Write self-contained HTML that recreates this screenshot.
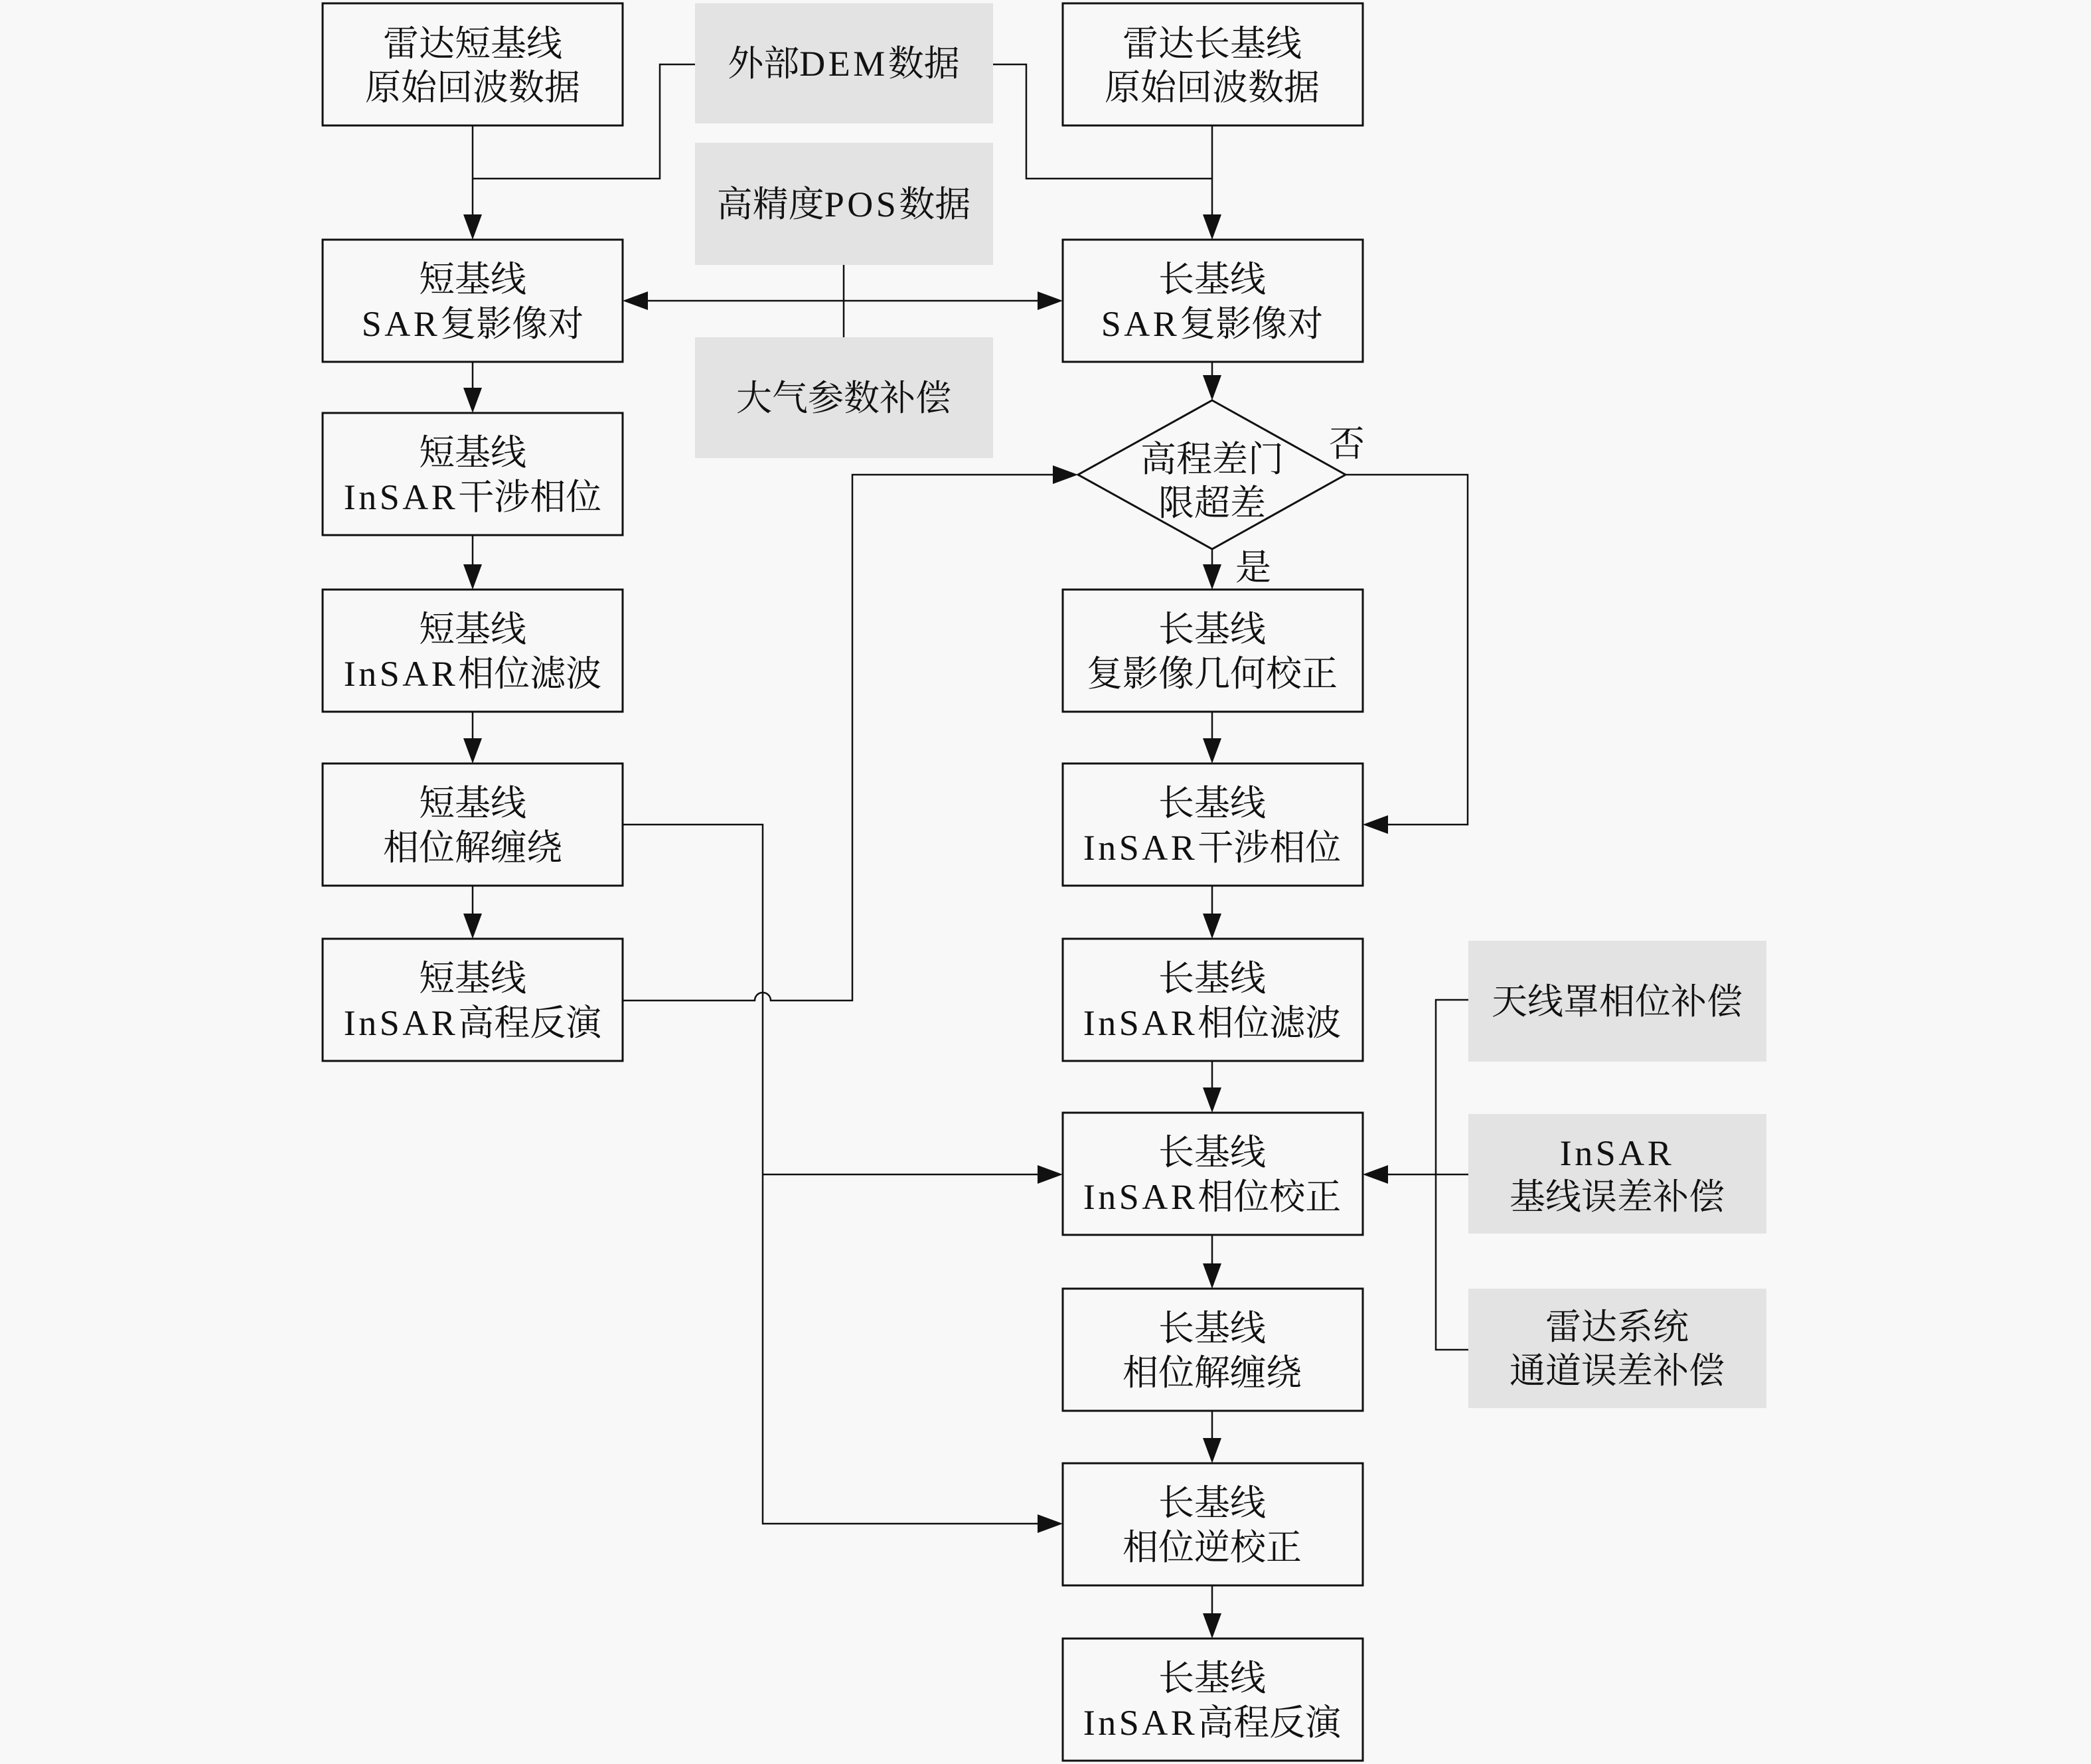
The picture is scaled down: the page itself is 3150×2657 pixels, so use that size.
<!DOCTYPE html>
<html>
<head>
<meta charset="utf-8">
<style>
html,body{margin:0;padding:0;background:#f8f8f8;}
svg{display:block;}
text{font-family:"Liberation Serif","Noto Serif CJK SC","Noto Sans CJK SC",serif;font-size:54px;fill:#111;text-anchor:middle;}
.l{letter-spacing:4.5px;}
</style>
</head>
<body>
<svg width="3150" height="2657" viewBox="0 0 3150 2657" xmlns="http://www.w3.org/2000/svg">
<rect x="0" y="0" width="3150" height="2657" fill="#f8f8f8"/>

<!-- gray boxes -->
<g fill="#e3e3e3">
<rect x="1047" y="5" width="449" height="181"/>
<rect x="1047" y="215" width="449" height="184"/>
<rect x="1047" y="508" width="449" height="182"/>
<rect x="2212" y="1417" width="449" height="182"/>
<rect x="2212" y="1678" width="449" height="180"/>
<rect x="2212" y="1941" width="449" height="180"/>
</g>

<!-- boxes -->
<g fill="none" stroke="#111" stroke-width="3">
<rect x="486" y="5" width="452" height="184"/>
<rect x="486" y="361" width="452" height="184"/>
<rect x="486" y="622" width="452" height="184"/>
<rect x="486" y="888" width="452" height="184"/>
<rect x="486" y="1150" width="452" height="184"/>
<rect x="486" y="1414" width="452" height="184"/>

<rect x="1601" y="5" width="452" height="184"/>
<rect x="1601" y="361" width="452" height="184"/>
<rect x="1601" y="888" width="452" height="184"/>
<rect x="1601" y="1150" width="452" height="184"/>
<rect x="1601" y="1414" width="452" height="184"/>
<rect x="1601" y="1676" width="452" height="184"/>
<rect x="1601" y="1941" width="452" height="184"/>
<rect x="1601" y="2204" width="452" height="184"/>
<rect x="1601" y="2468" width="452" height="184"/>

<polygon points="1826,603 2027,715 1826,827 1624,715"/>
</g>

<!-- connectors -->
<g fill="none" stroke="#111" stroke-width="2.5">
<path d="M712 189 V325"/>
<path d="M712 269 H994 V97 H1047"/>
<path d="M1496 97 H1546 V269 H1826"/>
<path d="M1826 189 V325"/>
<path d="M974 453 H1565"/>
<path d="M1271 399 V508"/>

<path d="M712 545 V586"/>
<path d="M712 806 V852"/>
<path d="M712 1072 V1114"/>
<path d="M712 1334 V1378"/>

<path d="M1826 545 V567"/>
<path d="M1826 827 V852"/>
<path d="M1826 1072 V1114"/>
<path d="M1826 1334 V1378"/>
<path d="M1826 1598 V1640"/>
<path d="M1826 1860 V1905"/>
<path d="M1826 2125 V2168"/>
<path d="M1826 2388 V2432"/>

<path d="M2027 715 H2211 V1242 H2089"/>
<path d="M938 1507 H1137 A12 12 0 0 1 1161 1507 H1284 V715 H1588"/>
<path d="M938 1242 H1149 V2295 H1565"/>
<path d="M1149 1769 H1565"/>
<path d="M2212 1506 H2163 V2033 H2212"/>
<path d="M2212 1769 H2089"/>
</g>

<!-- arrowheads -->
<g fill="#111">
<polygon points="712,361 698,323 726,323"/>
<polygon points="1826,361 1812,323 1840,323"/>
<polygon points="938,453 976,439 976,467"/>
<polygon points="1601,453 1563,439 1563,467"/>

<polygon points="712,622 698,584 726,584"/>
<polygon points="712,888 698,850 726,850"/>
<polygon points="712,1150 698,1112 726,1112"/>
<polygon points="712,1414 698,1376 726,1376"/>

<polygon points="1826,603 1812,565 1840,565"/>
<polygon points="1826,888 1812,850 1840,850"/>
<polygon points="1826,1150 1812,1112 1840,1112"/>
<polygon points="1826,1414 1812,1376 1840,1376"/>
<polygon points="1826,1676 1812,1638 1840,1638"/>
<polygon points="1826,1941 1812,1903 1840,1903"/>
<polygon points="1826,2204 1812,2166 1840,2166"/>
<polygon points="1826,2468 1812,2430 1840,2430"/>

<polygon points="2053,1242 2091,1228 2091,1256"/>
<polygon points="1624,715 1586,701 1586,729"/>
<polygon points="1601,2295 1563,2281 1563,2309"/>
<polygon points="1601,1769 1563,1755 1563,1783"/>
<polygon points="2053,1769 2091,1755 2091,1783"/>
</g>

<!-- text: left column -->
<text x="712" y="84">雷达短基线</text>
<text x="712" y="150">原始回波数据</text>

<text x="712" y="439">短基线</text>
<text x="712" y="506"><tspan class="l">SAR</tspan>复影像对</text>

<text x="712" y="700">短基线</text>
<text x="712" y="767"><tspan class="l">InSAR</tspan>干涉相位</text>

<text x="712" y="966">短基线</text>
<text x="712" y="1033"><tspan class="l">InSAR</tspan>相位滤波</text>

<text x="712" y="1228">短基线</text>
<text x="712" y="1295">相位解缠绕</text>

<text x="712" y="1492">短基线</text>
<text x="712" y="1559"><tspan class="l">InSAR</tspan>高程反演</text>

<!-- gray middle -->
<text x="1271" y="114">外部<tspan class="l">DEM</tspan>数据</text>
<text x="1271" y="326">高精度<tspan class="l">POS</tspan>数据</text>
<text x="1271" y="618">大气参数补偿</text>

<!-- right column -->
<text x="1826" y="84">雷达长基线</text>
<text x="1826" y="150">原始回波数据</text>

<text x="1826" y="439">长基线</text>
<text x="1826" y="506"><tspan class="l">SAR</tspan>复影像对</text>

<text x="1826" y="710">高程差门</text>
<text x="1826" y="776">限超差</text>
<text x="2029" y="687">否</text>
<text x="1888" y="873">是</text>

<text x="1826" y="966">长基线</text>
<text x="1826" y="1033">复影像几何校正</text>

<text x="1826" y="1228">长基线</text>
<text x="1826" y="1295"><tspan class="l">InSAR</tspan>干涉相位</text>

<text x="1826" y="1492">长基线</text>
<text x="1826" y="1559"><tspan class="l">InSAR</tspan>相位滤波</text>

<text x="1826" y="1754">长基线</text>
<text x="1826" y="1821"><tspan class="l">InSAR</tspan>相位校正</text>

<text x="1826" y="2019">长基线</text>
<text x="1826" y="2086">相位解缠绕</text>

<text x="1826" y="2282">长基线</text>
<text x="1826" y="2349">相位逆校正</text>

<text x="1826" y="2546">长基线</text>
<text x="1826" y="2613"><tspan class="l">InSAR</tspan>高程反演</text>

<!-- gray right -->
<text x="2436" y="1527">天线罩相位补偿</text>
<text x="2436" y="1755"><tspan class="l">InSAR</tspan></text>
<text x="2436" y="1821">基线误差补偿</text>
<text x="2436" y="2017">雷达系统</text>
<text x="2436" y="2083">通道误差补偿</text>
</svg>
</body>
</html>
